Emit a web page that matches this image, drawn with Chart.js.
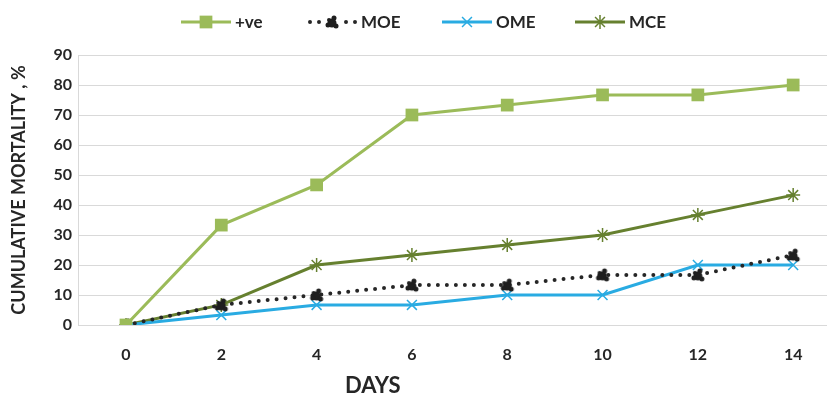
<!DOCTYPE html>
<html lang="en">
<head>
  <meta charset="UTF-8">
  <title>Cumulative mortality</title>
  <script src="https://cdn.jsdelivr.net/npm/chart.js"></script>
  <style>
    body { margin: 0; background: #fff; overflow: hidden; }
    #wrap { position: relative; width: 827px; height: 394px; }
    .lg { position: absolute; top: 11px; display: flex; align-items: center;
      font: bold 17px Lato, sans-serif; color: #262626; }
    .lg canvas { margin-right: 4px; }
    #xtitle { position: absolute; left: 345px; top: 371px; font: bold 22px Lato, sans-serif; color: #262626; }
  </style>
</head>
<body>
  <div id="wrap">
    <canvas id="myChart" width="827" height="394"></canvas>
    <div id="xtitle">DAYS</div>
  </div>
  <script>
    // data
    const days = [0, 2, 4, 6, 8, 10, 12, 14];
    const positive = [0, 33.3, 46.7, 70, 73.3, 76.7, 76.7, 80];
    const moe = [0, 6.7, 10, 13.3, 13.3, 16.7, 16.7, 23.3];
    const ome = [0, 3.3, 6.7, 6.7, 10, 10, 20, 20];
    const mce = [0, 6.7, 20, 23.3, 26.7, 30, 36.7, 43.3];
    const yTicks = [0, 10, 20, 30, 40, 50, 60, 70, 80, 90];

    const txt = '#262626';

    // little black blob used as the MOE marker
    function blob() {
      const c = document.createElement('canvas');
      c.width = 16; c.height = 16;
      const g = c.getContext('2d');
      g.fillStyle = '#1f1f1f';
      [[8, 9, 4.5], [10, 4, 2.5], [4, 11, 2.5], [12, 12, 2.5], [5, 6, 2]].forEach(p => {
        g.beginPath(); g.arc(p[0], p[1], p[2], 0, Math.PI * 2); g.fill();
      });
      return c;
    }
    const moeMark = blob();

    function pts(arr) {
      return days.map((d, i) => ({ x: d, y: arr[i] }));
    }

    const series = [
      { label: '+ve', data: pts(positive), borderColor: '#9bbb59', backgroundColor: '#9bbb59',
        borderWidth: 3, pointStyle: 'rect', pointRadius: 9, pointBorderWidth: 0, legendX: 181 },
      { label: 'MOE', data: pts(moe), borderColor: '#262626', backgroundColor: '#262626',
        borderWidth: 4, borderDash: [0, 9], borderCapStyle: 'round', pointStyle: moeMark, pointRadius: 8, legendX: 307 },
      { label: 'OME', data: pts(ome), borderColor: '#29abe2', backgroundColor: '#29abe2',
        borderWidth: 3, pointStyle: 'crossRot', pointRadius: 7, pointBorderWidth: 1.5, legendX: 442 },
      { label: 'MCE', data: pts(mce), borderColor: '#66802f', backgroundColor: '#66802f',
        borderWidth: 3, pointStyle: 'star', pointRadius: 7, pointBorderWidth: 1.5, legendX: 575 }
    ];

    const ctx = document.getElementById('myChart').getContext('2d');
    const myChart = new Chart(ctx, {
      type: 'line',
      data: { datasets: series.map(s => Object.assign({ fill: false, tension: 0 }, s)) },
      options: {
        responsive: false,
        animation: false,
        layout: { autoPadding: false, padding: { top: 55, left: 0, right: 0, bottom: 0 } },
        plugins: { legend: { display: false }, tooltip: { enabled: false } },
        scales: {
          x: {
            type: 'linear',
            min: -1.007,
            max: 14.71,
            afterBuildTicks: (scale) => { scale.ticks = days.map(v => ({ value: v })); },
            afterFit: (scale) => { scale.height = 69; scale.paddingLeft = 0; scale.paddingRight = 0; },
            grid: { display: false },
            border: { display: false },
            ticks: { color: txt, font: { family: 'Lato', size: 16, weight: 'bold' }, padding: 12 }
          },
          y: {
            min: 0,
            max: 90,
            afterBuildTicks: (scale) => { scale.ticks = yTicks.map(v => ({ value: v })); },
            afterFit: (scale) => { scale.width = 78; },
            grid: { color: '#d9d9d9', lineWidth: 1, drawTicks: false },
            border: { display: true, color: '#d9d9d9' },
            ticks: { color: txt, font: { family: 'Lato', size: 16, weight: 'bold' }, padding: 6 },
            title: { display: true, text: 'CUMULATIVE MORTALITY , %', color: txt,
              font: { family: 'Lato', size: 18, weight: 'bold' }, padding: { top: 8, bottom: 0 } }
          }
        }
      }
    });

    // HTML legend: line with the marker on it, then the label
    const wrap = document.getElementById('wrap');
    series.forEach(s => {
      const item = document.createElement('div');
      item.className = 'lg';
      item.style.left = s.legendX + 'px';
      const c = document.createElement('canvas');
      c.width = 50; c.height = 20;
      const g = c.getContext('2d');
      g.strokeStyle = s.borderColor;
      g.lineWidth = s.borderWidth;
      g.lineCap = s.borderCapStyle || 'butt';
      g.setLineDash(s.borderDash || []);
      g.beginPath(); g.moveTo(s.borderDash ? 3 : 0, 10); g.lineTo(50, 10); g.stroke();
      g.setLineDash([]);
      g.fillStyle = s.backgroundColor;
      if (s.pointStyle === moeMark) {
        g.fillStyle = '#fff'; g.fillRect(17, 2, 16, 16);
        g.drawImage(moeMark, 17, 2);
      } else {
        g.lineWidth = s.pointBorderWidth;
        Chart.helpers.drawPoint(g, { pointStyle: s.pointStyle, radius: s.pointRadius,
          borderWidth: s.pointBorderWidth, rotation: 0 }, 25, 10);
      }
      item.appendChild(c);
      const span = document.createElement('span');
      span.textContent = s.label;
      item.appendChild(span);
      wrap.appendChild(item);
    });
  </script>
</body>
</html>
